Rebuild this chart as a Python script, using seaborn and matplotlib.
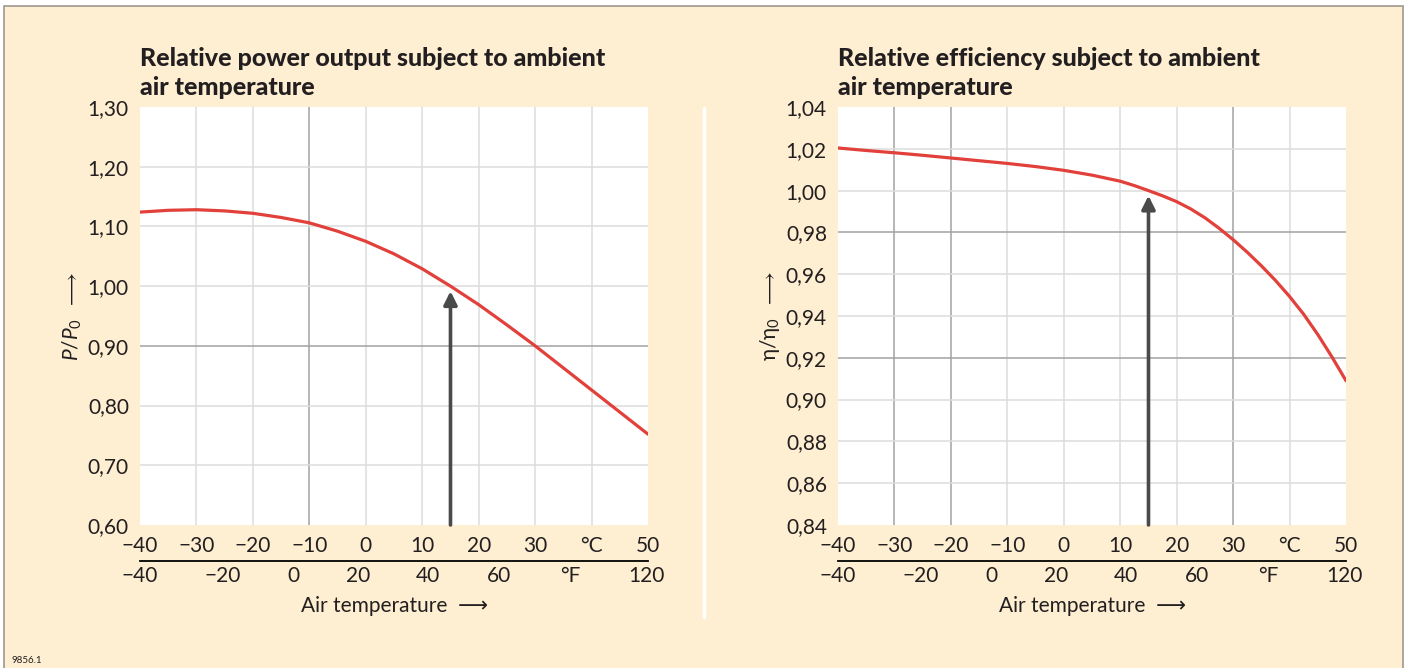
import matplotlib
matplotlib.use("Agg")
import matplotlib.pyplot as plt
from matplotlib.patches import Rectangle
from matplotlib.lines import Line2D
import seaborn as sns
import pandas as pd

# --- data ---
power_temp = [-40, -35, -30, -25, -20, -15, -10, -5, 0, 5, 10, 15, 20, 25, 30, 35, 40, 45, 50]
power_rel = [1.124, 1.127, 1.128, 1.126, 1.122, 1.115, 1.106, 1.092, 1.075, 1.054,
             1.029, 1.000, 0.969, 0.935, 0.900, 0.863, 0.826, 0.789, 0.752]

eff_temp = [-40, -35, -30, -25, -20, -15, -10, -5, 0, 5, 10, 12.5, 15, 17.5, 20, 22.5,
            25, 27.5, 30, 32.5, 35, 37.5, 40, 42.5, 45, 47.5, 50]
eff_rel = [1.0204, 1.0192, 1.0181, 1.0169, 1.0156, 1.0143, 1.0130, 1.0115, 1.0097, 1.0074,
           1.0045, 1.0024, 1.0000, 0.9975, 0.9947, 0.9912, 0.9870, 0.9820, 0.9765, 0.9705,
           0.9640, 0.9570, 0.9493, 0.9408, 0.9311, 0.9204, 0.9090]

ref_temp = 15  # ISO reference temperature (arrow)

c_ticks = [-40, -30, -20, -10, 0, 10, 20, 30, 40, 50]
c_labels = ["−40", "−30", "−20", "−10", "0", "10", "20", "30", "°C", "50"]
# fahrenheit labels sit at these (°C-scale) positions in the drawing
f_tick_pos = [-40, -25.3, -12.9, -1.4, 11.0, 23.6, 36.2, 49.8]
f_labels = ["−40", "−20", "0", "20", "40", "60", "°F", "120"]

power_ticks = [0.60, 0.70, 0.80, 0.90, 1.00, 1.10, 1.20, 1.30]
eff_ticks = [0.84, 0.86, 0.88, 0.90, 0.92, 0.94, 0.96, 0.98, 1.00, 1.02, 1.04]

power_df = pd.DataFrame({"temp": power_temp, "value": power_rel})
eff_df = pd.DataFrame({"temp": eff_temp, "value": eff_rel})

# --- style ---
sns.set_style("white")
plt.rcParams["font.family"] = ["Lato", "DejaVu Sans"]
plt.rcParams["mathtext.fontset"] = "custom"
plt.rcParams["mathtext.rm"] = "Lato"
plt.rcParams["mathtext.it"] = "Lato:italic"
plt.rcParams["mathtext.fallback"] = "stixsans"

CREAM = "#FEEFD2"
RED = "#E2403A"
ARROW = "#4A4A4A"
LIGHT = "#DCDCDC"
DARK = "#A2A2A2"
TEXT = "#231F20"

fig = plt.figure(figsize=(14.07, 6.68), dpi=100, facecolor="white")
fig.add_artist(Rectangle((4 / 1407, -0.02), 1399 / 1407, 1.02 - 6 / 668,
                         transform=fig.transFigure, facecolor=CREAM,
                         edgecolor="#9E978D", lw=1.2, zorder=-10))
fig.add_artist(Line2D([704 / 1407, 704 / 1407], [1 - 108 / 668, 1 - 617 / 668],
                      transform=fig.transFigure, color="white", lw=2.5))
fig.text(12 / 1407, 5 / 668, "9856.1", fontsize=7, color=TEXT)


def draw_panel(left, data, yticks, ylabel, title, dark_x, dark_y):
    ax = fig.add_axes([left, 0.2141, 0.3611, 0.6257])
    ax.set_facecolor("white")
    for s in ax.spines.values():
        s.set_visible(False)

    for x in c_ticks[1:-1]:
        ax.axvline(x, color=DARK if x in dark_x else LIGHT, lw=1.1, zorder=0)
    for y in yticks[1:-1]:
        ax.axhline(y, color=DARK if round(y, 2) in dark_y else LIGHT, lw=1.1, zorder=0)

    sns.lineplot(data=data, x="temp", y="value", ax=ax, color=RED, lw=2.3, zorder=3)

    ymin, ymax = yticks[0], yticks[-1]
    ax.annotate("", xy=(ref_temp, 1.0 - (ymax - ymin) * 0.012), xytext=(ref_temp, ymin),
                arrowprops=dict(arrowstyle="-|>", lw=2.6, color=ARROW,
                                mutation_scale=20, shrinkA=0, shrinkB=0), zorder=4)

    ax.set_xlim(-40, 50)
    ax.set_ylim(ymin, ymax)
    ax.set_xticks(c_ticks)
    ax.set_xticklabels(c_labels)
    ax.set_yticks(yticks)
    ax.set_yticklabels([f"{v:.2f}".replace(".", ",") for v in yticks])
    ax.tick_params(axis="both", length=0, labelsize=15, colors=TEXT)
    ax.tick_params(axis="x", pad=8)
    ax.tick_params(axis="y", pad=8)
    ax.set_xlabel("")
    ax.set_ylabel(ylabel + r"  $\longrightarrow$", fontsize=15, color=TEXT, labelpad=3)

    sec = ax.secondary_xaxis(-0.086)
    sec.set_xticks(f_tick_pos)
    sec.set_xticklabels(f_labels)
    sec.tick_params(length=0, labelsize=15, colors=TEXT, pad=4)
    sec.spines["bottom"].set_color("black")
    sec.spines["bottom"].set_linewidth(1.3)
    sec.set_xlabel("Air temperature  ⟶", fontsize=15, color=TEXT, labelpad=7)

    ax.set_title(title, loc="left", fontsize=18, fontweight="black", color=TEXT,
                 pad=9, linespacing=1.3)
    return ax


draw_panel(140 / 1407, power_df, power_ticks, r"$P/P_0$",
           "Relative power output subject to ambient\nair temperature",
           dark_x=[-10], dark_y=[0.90])
draw_panel(838 / 1407, eff_df, eff_ticks, r"$\mathrm{\eta}/\mathrm{\eta}_0$",
           "Relative efficiency subject to ambient\nair temperature",
           dark_x=[-30, -20, 30], dark_y=[0.98, 0.92])

fig.savefig("out.png", dpi=100, facecolor=fig.get_facecolor())
